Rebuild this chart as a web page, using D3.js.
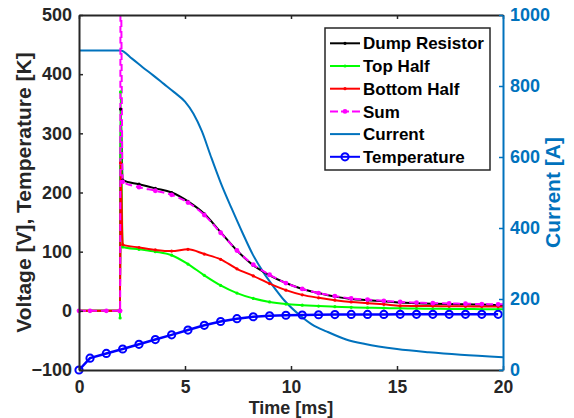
<!DOCTYPE html>
<html><head><meta charset="utf-8">
<script src="https://cdn.jsdelivr.net/npm/d3@7"></script>
<style>
html,body{margin:0;padding:0;background:#fff;}
svg{display:block;font-family:"Liberation Sans",Arial,Helvetica,sans-serif;font-weight:bold;}
</style></head>
<body><svg id="chart" width="574" height="418"></svg>
<script>
// ---- data ----
const time = [0,0.52,1.29,1.92,1.94,1.96,2.06,2.83,3.6,4.37,5.14,5.91,6.68,7.45,8.22,8.99,9.76,10.53,11.3,12.07,12.84,13.61,14.38,15.15,15.92,16.69,17.46,18.23,19.0,19.77,20];
const dumpResistor = [0,0,0,0,0,341,221,214,207,200,185,164,133,102,77,60,47,37,30,24,20,18,16,14,13,12,11.5,11,10.5,10,10];
const topHalf = [0,0,0,0,-12,370,108,104,100,94,79,60,43,30,21,15,11.5,9.5,8,7,6,5.2,4.6,4.2,3.8,3.5,3.2,3,2.8,2.6,2.5];
const bottomHalf = [0,0,0,0,0,250,112,107,103,101,104,96,87,71,59,46,35,27,22,18,15,13,11,8.5,8.2,8,7.8,7.6,7.4,7.2,7];
const sumV = [0,0,0,0,0,620,218,209,203,196,183,162,132,102,78,61,47,37,30,25,21,19,17,15,14,13,12.5,12,11.5,11,11];

const tempTime = [0,0.52,1.29,2.06,2.83,3.6,4.37,5.14,5.91,6.68,7.45,8.22,8.99,9.76,10.53,11.3,12.07,12.84,13.61,14.38,15.15,15.92,16.69,17.46,18.23,19.0,19.77];
const temperature = [-100,-80,-72,-64.5,-56.6,-48.5,-40.6,-32.5,-24.5,-18,-13.3,-10,-8.3,-7.5,-7,-6.6,-6.3,-6.1,-6,-6,-5.9,-5.9,-5.9,-5.9,-5.9,-5.9,-5.9];

const currentTime = [0,1.96,2.5,3,3.5,4,4.5,5,5.4,5.8,6.2,6.7,7.2,7.7,8.2,8.7,9.2,9.7,10.4,11,11.7,12.6,13.5,15,16.5,18,20];
const current = [900,900,877,853,830,806,782,756,722,672,605,525,455,388,325,275,233,195,155,128,108,86,73,59,50,43,36];

const xTicks = [0,5,10,15,20];
const yLeftTicks = [-100,0,100,200,300,400,500];
const yRightTicks = [0,200,400,600,800,1000];
const legendLabels = ["Dump Resistor","Top Half","Bottom Half","Sum","Current","Temperature"];

// ---- layout ----
const L = 79, R = 503, T = 15, B = 370;
const svg = d3.select("#chart");
const x = d3.scaleLinear().domain([0,20]).range([L,R]);
const yL = d3.scaleLinear().domain([-100,500]).range([B,T]);
const yR = d3.scaleLinear().domain([0,1000]).range([B,T]);
const axisCol = "#262626", curCol = "#0072BD";

svg.append("defs").append("clipPath").attr("id","clip")
  .append("rect").attr("x",L).attr("y",T).attr("width",R-L).attr("height",B-T);

const plot = svg.append("g").attr("clip-path","url(#clip)");

// current line (right axis)
const curData = currentTime.map((t,i)=>({t, v: current[i]}));
plot.append("path").datum(curData)
  .attr("d", d3.line().x(d=>x(d.t)).y(d=>yR(d.v)).curve(d3.curveMonotoneX))
  .attr("fill","none").attr("stroke",curCol).attr("stroke-width",2);

// voltage series
const series = [
  {vals: dumpResistor, color:"#000000", dash:null, r:1.6},
  {vals: topHalf, color:"#00ff00", dash:null, r:1.6},
  {vals: bottomHalf, color:"#ff0000", dash:null, r:1.6},
  {vals: sumV, color:"#ff00ff", dash:"7,4", r:2.4}
];
const vline = d3.line().x(d=>x(d.t)).y(d=>yL(d.v)).curve(d3.curveMonotoneX);
series.forEach(s=>{
  const data = time.map((t,i)=>({t, v:s.vals[i]}));
  plot.append("path").datum(data).attr("d", vline)
    .attr("fill","none").attr("stroke",s.color).attr("stroke-width",2)
    .attr("stroke-dasharray", s.dash);
  svg.append("g").selectAll("circle").data(data.filter(d=>d.t<19.9 && d.v<=500)).join("circle")
    .attr("cx",d=>x(d.t)).attr("cy",d=>yL(d.v)).attr("r",s.r).attr("fill",s.color);
});

// temperature
const tData = tempTime.map((t,i)=>({t, v: temperature[i]}));
plot.append("path").datum(tData)
  .attr("d", d3.line().x(d=>x(d.t)).y(d=>yL(d.v)))
  .attr("fill","none").attr("stroke","#0000ff").attr("stroke-width",2.5);
svg.append("g").selectAll("circle").data(tData).join("circle")
  .attr("cx",d=>x(d.t)).attr("cy",d=>yL(d.v)).attr("r",3.6)
  .attr("fill","none").attr("stroke","#0000ff").attr("stroke-width",2);

// ---- axes ----
function styleAxis(g, col, fs){
  g.select(".domain").attr("stroke",col).attr("stroke-width",2);
  g.selectAll(".tick line").attr("stroke",col).attr("stroke-width",1.5);
  g.selectAll(".tick text").attr("fill",col).style("font-size",fs+"px").style("font-weight","bold")
    .style("font-family","'Liberation Sans',Arial,sans-serif");
}
const gx = svg.append("g").attr("transform",`translate(0,${B})`)
  .call(d3.axisBottom(x).tickValues(xTicks).tickFormat(d3.format("d")).tickSize(-4).tickSizeOuter(0).tickPadding(11));
styleAxis(gx, axisCol, 17.5);
const gt = svg.append("g").attr("transform",`translate(0,${T})`)
  .call(d3.axisTop(x).tickValues(xTicks).tickFormat("").tickSize(-4).tickSizeOuter(0));
styleAxis(gt, axisCol, 17.5);
const gl = svg.append("g").attr("transform",`translate(${L},0)`)
  .call(d3.axisLeft(yL).tickValues(yLeftTicks).tickFormat(d3.format("d")).tickSize(-4).tickSizeOuter(0).tickPadding(7));
styleAxis(gl, axisCol, 18);
const gr = svg.append("g").attr("transform",`translate(${R},0)`)
  .call(d3.axisRight(yR).tickValues(yRightTicks).tickFormat(d3.format("d")).tickSize(-4).tickSizeOuter(0).tickPadding(7));
styleAxis(gr, curCol, 18);

// axis labels
svg.append("text").attr("x",(L+R)/2).attr("y",414).attr("text-anchor","middle")
  .style("font-size","18px").attr("fill",axisCol).text("Time [ms]");
svg.append("text").attr("transform",`translate(31,${(T+B)/2}) rotate(-90)`).attr("text-anchor","middle")
  .style("font-size","21px").attr("fill",axisCol).text("Voltage [V], Temperature [K]");
svg.append("text").attr("transform",`translate(560,${(T+B)/2}) rotate(-90)`).attr("text-anchor","middle")
  .style("font-size","21px").attr("fill",curCol).text("Current [A]");

// ---- legend ----
const lg = svg.append("g");
lg.append("rect").attr("x",325).attr("y",28).attr("width",165).attr("height",142)
  .attr("fill","#fff").attr("stroke",axisCol).attr("stroke-width",1.5);
const legendStyles = [
  {color:"#000000", dash:null, marker:"dot", r:1.6},
  {color:"#00ff00", dash:null, marker:"dot", r:1.6},
  {color:"#ff0000", dash:null, marker:"dot", r:1.6},
  {color:"#ff00ff", dash:"7,4", marker:"dot", r:2.4},
  {color:curCol, dash:null, marker:null},
  {color:"#0000ff", dash:null, marker:"circle"}
];
legendLabels.forEach((lab,i)=>{
  const yy = 43.3 + i*22.7;
  const st = legendStyles[i];
  lg.append("line").attr("x1",330).attr("x2",360).attr("y1",yy).attr("y2",yy)
    .attr("stroke",st.color).attr("stroke-width",2).attr("stroke-dasharray", st.dash ? "8,3" : null);
  if(st.marker==="dot") lg.append("circle").attr("cx",345).attr("cy",yy).attr("r",st.r).attr("fill",st.color);
  if(st.marker==="circle") lg.append("circle").attr("cx",345).attr("cy",yy).attr("r",3.6)
    .attr("fill","none").attr("stroke",st.color).attr("stroke-width",2);
  lg.append("text").attr("x",363).attr("y",yy).attr("dy","0.36em")
    .style("font-size","17px").attr("fill","#000").text(lab);
});
</script></body></html>
